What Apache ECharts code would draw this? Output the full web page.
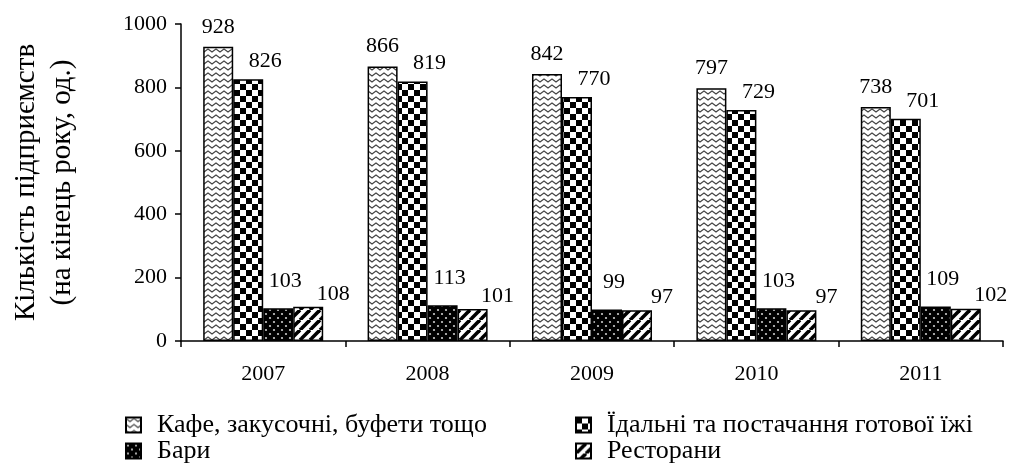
<!DOCTYPE html>
<html>
<head>
<meta charset="utf-8">
<script src="https://cdn.jsdelivr.net/npm/echarts@6/dist/echarts.min.js"></script>
<style>
html,body{margin:0;padding:0;background:#fff;}
#c{width:1016px;height:476px;}
</style>
</head>
<body>
<div id="c"></div>
<script>
var years = ['2007', '2008', '2009', '2010', '2011'];
var seriesNames = ['Кафе, закусочні, буфети тощо', 'Їдальні та постачання готової їжі', 'Бари', 'Ресторани'];
var cafe = [928, 866, 842, 797, 738];
var canteens = [826, 819, 770, 729, 701];
var bars = [103, 113, 99, 103, 109];
var restaurants = [108, 101, 97, 97, 102];
var yTicks = [0, 200, 400, 600, 800, 1000];
var axisTitle = 'Кількість підприємств\n(на кінець року, од.)';

function makeTile(w, h, draw) {
  var c = document.createElement('canvas');
  c.width = w; c.height = h;
  var ctx = c.getContext('2d');
  draw(ctx, w, h);
  return c;
}
var zigzag = makeTile(8, 6, function (ctx, w, h) {
  ctx.fillStyle = '#fff'; ctx.fillRect(0, 0, w, h);
  ctx.strokeStyle = '#444'; ctx.lineWidth = 1.2;
  ctx.beginPath();
  ctx.moveTo(-4, 4); ctx.lineTo(0, 1); ctx.lineTo(4, 4); ctx.lineTo(8, 1); ctx.lineTo(12, 4);
  ctx.stroke();
});
var checker = makeTile(12, 12, function (ctx, w, h) {
  ctx.fillStyle = '#fff'; ctx.fillRect(0, 0, w, h);
  ctx.fillStyle = '#000';
  ctx.fillRect(0, 0, 6, 6); ctx.fillRect(6, 6, 6, 6);
});
var dots = makeTile(8, 8, function (ctx, w, h) {
  ctx.fillStyle = '#000'; ctx.fillRect(0, 0, w, h);
  ctx.fillStyle = '#ccc';
  [[2, 2], [6, 6]].forEach(function (p) {
    ctx.beginPath(); ctx.arc(p[0], p[1], 1.1, 0, Math.PI * 2); ctx.fill();
  });
});
var stripes = makeTile(10, 10, function (ctx, w, h) {
  ctx.fillStyle = '#fff'; ctx.fillRect(0, 0, w, h);
  ctx.strokeStyle = '#000'; ctx.lineWidth = 3.6;
  for (var k = -1; k <= 1; k++) {
    ctx.beginPath(); ctx.moveTo(k * 10, 10); ctx.lineTo(k * 10 + 10, 0); ctx.stroke();
  }
});
var patterns = [zigzag, checker, dots, stripes];
var values = [cafe, canteens, bars, restaurants];
var labelCfg = [
  { distance: 9, offset: [0, 0] },
  { distance: 7, offset: [17, 0] },
  { distance: 16, offset: [7, 0] },
  { distance: 2, offset: [25, 0] }
];
var FONT = 'Liberation Serif';

var series = values.map(function (v, i) {
  return {
    name: seriesNames[i],
    type: 'bar',
    data: v,
    barGap: '0%',
    barCategoryGap: '27%',
    itemStyle: {
      color: { image: patterns[i], repeat: 'repeat' },
      borderColor: '#000',
      borderWidth: 1.5
    },
    label: {
      show: true,
      position: 'top',
      distance: labelCfg[i].distance,
      offset: labelCfg[i].offset,
      color: '#000',
      fontFamily: FONT,
      fontSize: 22
    },
    emphasis: { disabled: true },
    animation: false
  };
});

function legendAt(left, names) {
  return {
    data: names,
    orient: 'vertical',
    left: left, top: 412,
    width: 440, height: 64,
    padding: 0,
    icon: 'rect',
    itemWidth: 15, itemHeight: 15, itemGap: 0,
    formatter: function (n) { return '{t|' + n + '}'; },
    textStyle: {
      fontFamily: FONT, fontSize: 26, color: '#000', padding: [0, 0, 0, 11],
      rich: { t: { fontFamily: FONT, fontSize: 26, color: '#000' } }
    },
    selectedMode: false
  };
}
var chart = echarts.init(document.getElementById('c'), null, { renderer: 'canvas' });
chart.setOption({
  backgroundColor: '#fff',
  animation: false,
  textStyle: { fontFamily: FONT },
  grid: { left: 179, right: 13, top: 24, bottom: 135, containLabel: false },
  legend: [
    legendAt(125, [seriesNames[0], seriesNames[2]]),
    legendAt(575, [seriesNames[1], seriesNames[3]])
  ],
  xAxis: {
    type: 'category',
    data: years,
    axisLine: { lineStyle: { color: '#000', width: 1.5 } },
    axisTick: { show: true, length: 6, lineStyle: { color: '#000', width: 1.5 } },
    axisLabel: { color: '#000', fontFamily: FONT, fontSize: 22, margin: 22 }
  },
  yAxis: {
    type: 'value',
    min: yTicks[0],
    max: yTicks[yTicks.length - 1],
    interval: yTicks[1] - yTicks[0],
    name: axisTitle,
    nameLocation: 'middle',
    nameRotate: 90,
    nameGap: 101,
    nameTextStyle: { color: '#000', fontFamily: FONT, fontSize: 29, lineHeight: 36 },
    axisLine: { show: true, lineStyle: { color: '#000', width: 1.5 } },
    axisTick: { show: true, length: 6, lineStyle: { color: '#000', width: 1.5 } },
    splitLine: { show: false },
    axisLabel: { color: '#000', fontFamily: FONT, fontSize: 22, margin: 14, formatter: function (v) { return String(v); } }
  },
  series: series
});
</script>
</body>
</html>
